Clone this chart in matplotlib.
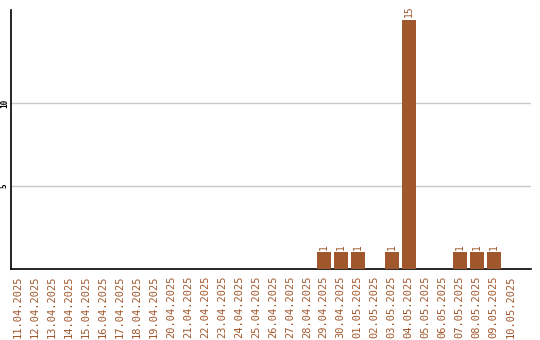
import matplotlib
matplotlib.use("Agg")
import matplotlib.pyplot as plt

dates = ['11.04.2025', '12.04.2025', '13.04.2025', '14.04.2025', '15.04.2025',
         '16.04.2025', '17.04.2025', '18.04.2025', '19.04.2025', '20.04.2025',
         '21.04.2025', '22.04.2025', '23.04.2025', '24.04.2025', '25.04.2025',
         '26.04.2025', '27.04.2025', '28.04.2025', '29.04.2025', '30.04.2025',
         '01.05.2025', '02.05.2025', '03.05.2025', '04.05.2025', '05.05.2025',
         '06.05.2025', '07.05.2025', '08.05.2025', '09.05.2025', '10.05.2025']
counts = [0, 0, 0, 0, 0, 0, 0, 0, 0, 0,
          0, 0, 0, 0, 0, 0, 0, 0, 1, 1,
          1, 0, 1, 15, 0, 0, 1, 1, 1, 0]
yticks = [5, 10]

brown = '#a0572b'
plt.rcParams['font.family'] = 'DejaVu Sans Mono'

fig = plt.figure(figsize=(5.4, 3.4), dpi=100)
ax = fig.add_axes([11 / 540, 71 / 340, 520 / 540, 259 / 340])

x = list(range(len(dates)))
ax.bar(x, counts, width=0.82, color=brown, zorder=3)
for xi, c in zip(x, counts):
    if c > 0:
        ax.text(xi, c + 0.15, str(c), rotation=90, ha='center', va='bottom',
                color=brown, fontsize=7)

ax.set_xlim(-0.41, 30.2)
ax.set_ylim(0, 15.0 + 0.6)
ax.set_yticks(yticks)
ax.set_yticklabels([str(t) for t in yticks], rotation=90, va='center',
                   fontsize=5.5, fontweight='bold')
ax.tick_params(axis='y', length=0, pad=1.5)
ax.set_xticks(x)
ax.set_xticklabels(dates, rotation=90, color=brown, fontsize=7.5)
ax.tick_params(axis='x', length=0, pad=5)
ax.grid(axis='y', color='#c8c8c8', linewidth=1, zorder=0)
for s in ['top', 'right']:
    ax.spines[s].set_visible(False)
ax.spines['left'].set_linewidth(1.2)
ax.spines['bottom'].set_linewidth(1.2)

fig.savefig('out.png', dpi=100)
